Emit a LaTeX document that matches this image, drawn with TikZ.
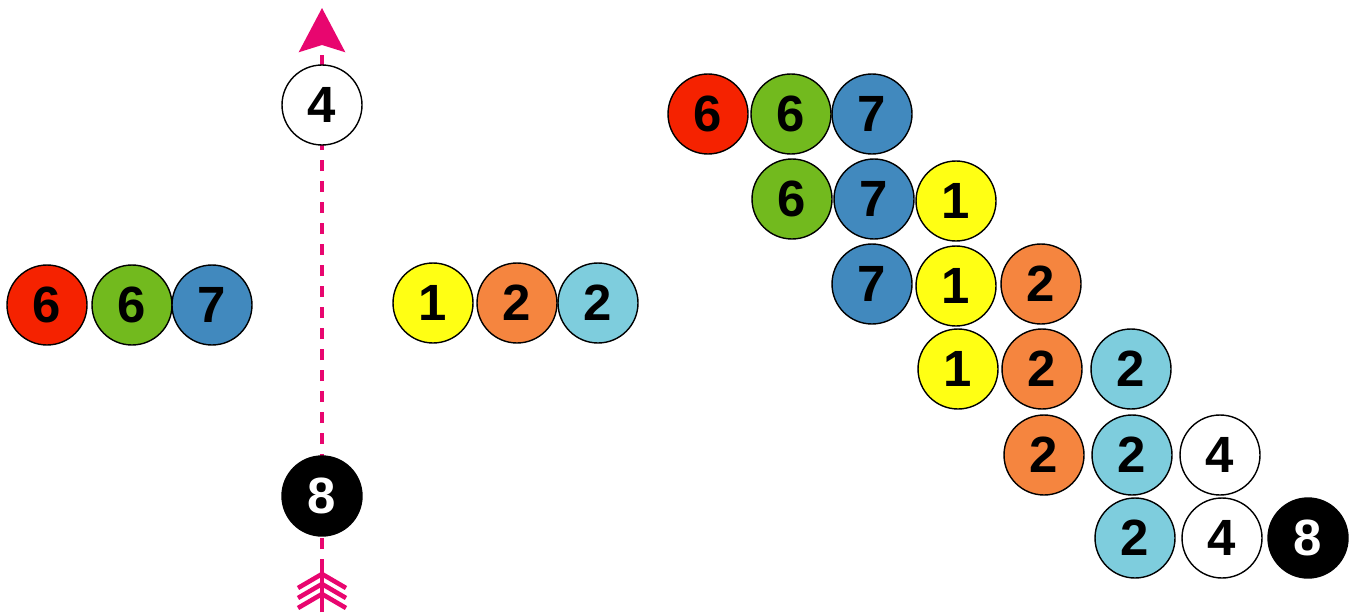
\documentclass[tikz,border=0pt]{standalone}
\usepackage{fontspec}
\setmainfont{Liberation Sans}
\usetikzlibrary{arrows.meta}

\definecolor{ballred}{HTML}{F52200}
\definecolor{ballgreen}{HTML}{72BA1E}
\definecolor{ballblue}{HTML}{4189BE}
\definecolor{ballyellow}{HTML}{FFFF14}
\definecolor{ballorange}{HTML}{F5853F}
\definecolor{ballcyan}{HTML}{7ECDDD}
\definecolor{axispink}{HTML}{E8066F}

\begin{document}
\begin{tikzpicture}[x=0.02cm, y=-0.02cm,
	ball/.style={circle, draw=black, line width=0.8pt, minimum size=1.6cm, inner sep=0pt,
		font=\bfseries\fontsize{29}{29}\selectfont},
	red/.style={ball, fill=ballred},
	green/.style={ball, fill=ballgreen},
	blue/.style={ball, fill=ballblue},
	yellow/.style={ball, fill=ballyellow},
	orange/.style={ball, fill=ballorange},
	cyan/.style={ball, fill=ballcyan},
	white/.style={ball, fill=white},
	black/.style={ball, fill=black, text=white},
	feather/.style={draw=axispink, line width=2.6pt}]
	\useasboundingbox (0,0) rectangle (1351,615);

	%Achse
	\coordinate (tail) at (322,612);
	\coordinate (head) at (322,8);
	\draw[axispink, line width=2.3pt, dash pattern=on 0.22cm off 0.2cm,
		-{Stealth[length=0.88cm, width=0.92cm, inset=0.14cm]}] (tail) -- (head);
	\draw[axispink, line width=2.3pt] (tail) -- ++(0,-50);
	\foreach \i in {0,1,2}
		\draw[feather] ([shift={(-24,-24+10*\i)}]tail) -- ([shift={(0,-38+10*\i)}]tail) -- ([shift={(24,-24+10*\i)}]tail);

	\node[white] (top) at (322,105) {4};
	\node[black] (bottom) at (322,496) {8};

	%links
	\node[red] (l1) at (47,305) {6};
	\node[green] (l2) at (132,305) {6};
	\node[blue] (l3) at (212,305) {7};
	%rechts
	\node[yellow] (r1) at (433,303) {1};
	\node[orange] (r2) at (517,303) {2};
	\node[cyan] (r3) at (598,303) {2};

	%Treppe
	\node[red] (a1) at (708,114) {6};
	\node[green] (a2) at (791,114) {6};
	\node[blue] (a3) at (872,114) {7};

	\node[green] (b1) at (792,199) {6};
	\node[blue] (b2) at (874,199) {7};
	\node[yellow] (b3) at (956,201) {1};

	\node[blue] (c1) at (872,284) {7};
	\node[yellow] (c2) at (956,286) {1};
	\node[orange] (c3) at (1041,284) {2};

	\node[yellow] (d1) at (958,369) {1};
	\node[orange] (d2) at (1042,369) {2};
	\node[cyan] (d3) at (1131,369) {2};

	\node[orange] (e1) at (1044,455) {2};
	\node[cyan] (e2) at (1132,455) {2};
	\node[white] (e3) at (1220,455) {4};

	\node[cyan] (f1) at (1135,538) {2};
	\node[white] (f2) at (1222,538) {4};
	\node[black] (f3) at (1308,538) {8};
\end{tikzpicture}
\end{document}
